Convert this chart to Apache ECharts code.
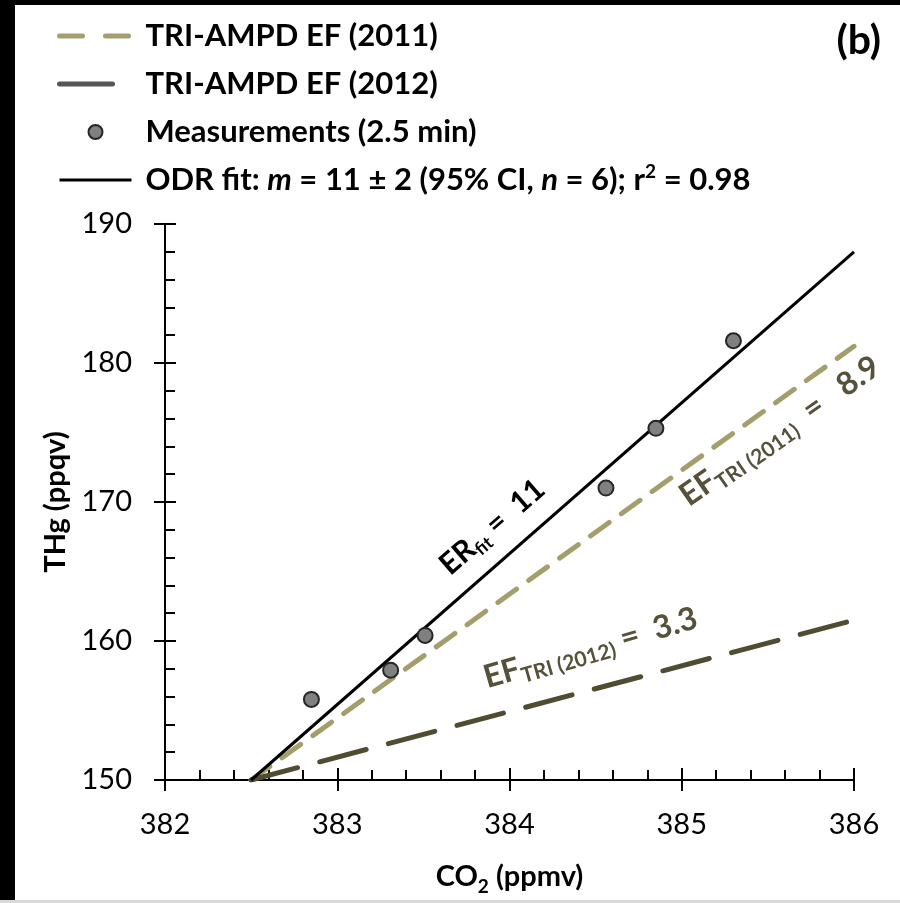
<!DOCTYPE html>
<html><head><meta charset="utf-8">
<script src="https://cdn.jsdelivr.net/npm/echarts@6/dist/echarts.min.js"></script>
<style>
html,body{margin:0;padding:0;}
body{width:900px;height:903px;background:#fff;position:relative;overflow:hidden;}
#frameL{position:absolute;left:0;top:0;width:15px;height:903px;background:#000;}
#frameT{position:absolute;left:0;top:0;width:900px;height:5px;background:#000;}
#frameB{position:absolute;left:0;bottom:0;width:900px;height:3px;background:#d9d9d9;}
#chart{position:absolute;left:0;top:0;width:900px;height:903px;}
</style></head>
<body>
<div id="frameL"></div><div id="frameT"></div><div id="frameB"></div>
<div id="chart"></div>
<script>
// ---- data ----
const xTicks = [382, 383, 384, 385, 386];
const yTicks = [150, 160, 170, 180, 190];
const measCO2 = [382.85, 383.31, 383.51, 384.56, 384.85, 385.30];
const measTHg = [155.8, 157.9, 160.4, 171.0, 175.3, 181.6];
const fitCO2 = [382.5, 386.0];
const fitTHg = [150.0, 188.0];
const ef2011CO2 = [382.5, 386.0];
const ef2011THg = [150.0, 181.2];
const ef2012CO2 = [382.5, 386.0];
const ef2012THg = [150.0, 161.5];
const seriesNames = ['TRI-AMPD EF (2011)', 'TRI-AMPD EF (2012)', 'Measurements (2.5 min)', 'ODR fit'];

// annotation anchors (data coordinates)
const annER = [383.90, 168.2];
const ann2011 = [385.57, 175.1];
const ann2012 = [384.47, 159.5];

const pairs = (xs, ys) => xs.map((x, i) => [x, ys[i]]);
const FF = 'Lato';

const chart = echarts.init(document.getElementById('chart'), null, {renderer: 'canvas'});

const axisCommonX = {type: 'value', min: xTicks[0], max: xTicks[xTicks.length - 1], interval: 1, position: 'bottom', splitLine: {show: false}};
const axisCommonY = {type: 'value', min: yTicks[0], max: yTicks[yTicks.length - 1], interval: 10, position: 'left', splitLine: {show: false}};
const blk = {color: '#000', width: 2};

function annSeries(pt, rot, fmt, rich) {
  return {
    type: 'scatter', data: [pt], symbolSize: 0, silent: true, z: 5,
    itemStyle: {opacity: 1},
    label: {show: true, position: 'inside', rotate: rot, formatter: fmt, rich: rich}
  };
}
const bigBlk = {fontFamily: FF, fontSize: 30, fontWeight: 'bold', color: '#000', lineHeight: 36, verticalAlign: 'middle'};
const subBlk = {fontFamily: FF, fontSize: 18, fontWeight: 'bold', color: '#000', lineHeight: 18, verticalAlign: 'bottom'};
const bigOl = Object.assign({}, bigBlk, {color: '#55513a', fontSize: 32, lineHeight: 38});
const subOl = Object.assign({}, subBlk, {color: '#55513a', fontSize: 21, lineHeight: 21});
const noSym = {color: 'rgba(0,0,0,0)', borderWidth: 0, opacity: 0};

const option = {
  animation: false,
  grid: {left: 165, right: 46, top: 224, bottom: 123, containLabel: false},
  title: {text: '(b)', right: 19, top: 20, padding: 0, textStyle: {fontFamily: FF, fontSize: 41, fontWeight: 'bold', color: '#000'}},
  legend: {
    orient: 'vertical', left: 57, top: 18, padding: 0, itemWidth: 72, itemHeight: 14, itemGap: 12,
    selectedMode: false,
    data: [
      {name: seriesNames[0], itemStyle: noSym, lineStyle: {type: [23, 23], width: 5, color: '#a39e6c'}},
      {name: seriesNames[1], itemStyle: noSym, lineStyle: {type: [53, 40], width: 5, color: '#555555'}},
      {name: seriesNames[2]},
      {name: seriesNames[3], itemStyle: noSym, lineStyle: {width: 3, color: '#000'}}
    ],
    textStyle: {
      fontFamily: FF, fontSize: 31, fontWeight: 'bold', color: '#000', lineHeight: 36, padding: [0, 0, 0, 9],
      rich: {
        b: {fontFamily: FF, fontSize: 31, fontWeight: 'bold', color: '#000', lineHeight: 36},
        i: {fontFamily: FF, fontSize: 31, fontWeight: 'bold', fontStyle: 'italic', color: '#000', lineHeight: 36},
        sup: {fontFamily: FF, fontSize: 19, fontWeight: 'bold', color: '#000', lineHeight: 19, verticalAlign: 'top'}
      }
    },
    formatter: function (name) {
      if (name === 'ODR fit') {
        return '{b|ODR fit: }{i|m}{b| = 11 ± 2 (95% CI, }{i|n}{b| = 6); r}{sup|2}{b| = 0.98}';
      }
      return '{b|' + name + '}';
    }
  },
  xAxis: [
    Object.assign({}, axisCommonX, {
      axisLine: {onZero: false, lineStyle: blk},
      axisTick: {inside: false, length: 11, lineStyle: blk},
      minorTick: {show: false},
      axisLabel: {color: '#000', fontFamily: FF, fontSize: 29, margin: 30},
      name: '{m|CO}{s|2}{m| (ppmv)}', nameLocation: 'middle', nameGap: 78,
      nameTextStyle: {
        fontFamily: FF, fontSize: 29, fontWeight: 'bold', color: '#000', lineHeight: 38,
        rich: {
          m: {fontFamily: FF, fontSize: 29, fontWeight: 'bold', color: '#000', lineHeight: 38, verticalAlign: 'middle'},
          s: {fontFamily: FF, fontSize: 19, fontWeight: 'bold', color: '#000', lineHeight: 19, verticalAlign: 'bottom'}
        }
      }
    }),
    Object.assign({}, axisCommonX, {
      axisLine: {show: false, onZero: false},
      axisTick: {inside: true, length: 12, lineStyle: blk},
      minorTick: {show: true, splitNumber: 5, length: 10, lineStyle: blk},
      axisLabel: {show: false}
    })
  ],
  yAxis: [
    Object.assign({}, axisCommonY, {
      axisLine: {onZero: false, lineStyle: blk},
      axisTick: {inside: false, length: 11, lineStyle: blk},
      minorTick: {show: false},
      axisLabel: {color: '#000', fontFamily: FF, fontSize: 29, margin: 33},
      name: 'THg (ppqv)', nameLocation: 'middle', nameGap: 86, nameRotate: 90,
      nameTextStyle: {fontFamily: FF, fontSize: 29, fontWeight: 'bold', color: '#000'}
    }),
    Object.assign({}, axisCommonY, {
      axisLine: {show: false, onZero: false},
      axisTick: {inside: true, length: 11, lineStyle: blk},
      minorTick: {show: true, splitNumber: 5, length: 10, lineStyle: blk},
      axisLabel: {show: false}
    })
  ],
  series: [
    {name: seriesNames[0], type: 'line', data: pairs(ef2011CO2, ef2011THg), symbol: 'none', z: 2,
     color: '#a39e6c', lineStyle: {color: '#a39e6c', width: 5, type: [23, 15], cap: 'round'}},
    {name: seriesNames[1], type: 'line', data: pairs(ef2012CO2, ef2012THg), symbol: 'none', z: 2,
     color: '#504c32', lineStyle: {color: '#504c32', width: 5, type: [48, 23], cap: 'round'}},
    {name: seriesNames[3], type: 'line', data: pairs(fitCO2, fitTHg), symbol: 'none', z: 3,
     color: '#000', lineStyle: {color: '#000', width: 3}},
    {name: seriesNames[2], type: 'scatter', data: pairs(measCO2, measTHg), symbol: 'circle', symbolSize: 15, z: 4,
     itemStyle: {color: '#808080', borderColor: '#262626', borderWidth: 2, opacity: 1}},
    annSeries(annER, 41, '{a|ER}{s|fit}{a| =  11}', {a: bigBlk, s: subBlk}),
    annSeries(ann2011, 35, '{a|EF}{s|TRI (2011)}{a|  =   8.9}', {a: bigOl, s: subOl}),
    annSeries(ann2012, 16, '{a|EF}{s|TRI (2012)}{a| =  3.3}', {a: bigOl, s: subOl})
  ]
};
chart.setOption(option);
</script>
</body></html>
